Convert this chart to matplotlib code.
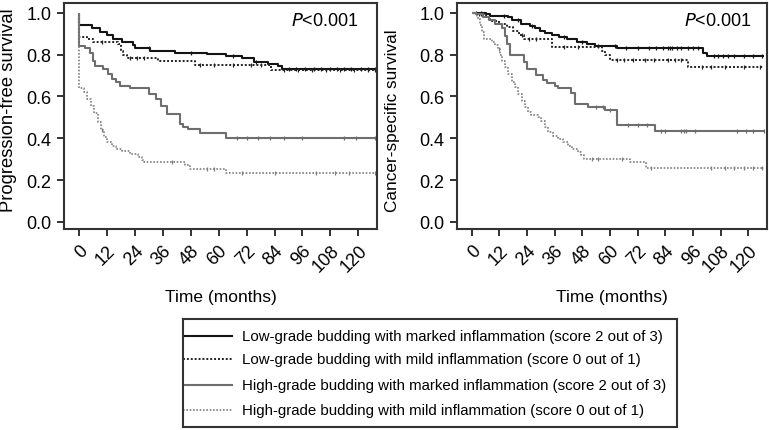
import matplotlib
matplotlib.use("Agg")
import matplotlib.pyplot as plt
import numpy as np

plt.rcParams['font.family'] = ['Liberation Sans', 'DejaVu Sans']

# ---------------- data ----------------
labels = [
    "Low-grade budding with marked inflammation (score 2 out of 3)",
    "Low-grade budding with mild inflammation (score 0 out of 1)",
    "High-grade budding with marked inflammation (score 2 out of 3)",
    "High-grade budding with mild inflammation (score 0 out of 1)",
]
xticks = [0, 12, 24, 36, 48, 60, 72, 84, 96, 108, 120]
yticks = [0.0, 0.2, 0.4, 0.6, 0.8, 1.0]

# Progression-free survival (left)
pfs_lm_t = [0, 0, 5.5, 9, 12, 14.5, 18.5, 23, 24, 30.5, 41, 55, 63, 70, 75, 81, 85.5, 87, 127]
pfs_lm_s = [1.0, 0.94, 0.927, 0.91, 0.895, 0.876, 0.863, 0.845, 0.831, 0.82, 0.809, 0.805, 0.796, 0.783, 0.767, 0.756, 0.745, 0.732, 0.732]
pfs_lm_c = [30, 48, 66, 76, 90, 93, 97, 101, 104, 108, 111, 114, 117, 121, 124, 127]

pfs_lw_t = [0, 0, 3.3, 6, 16.7, 18, 19, 20.4, 34, 49.7, 82.5, 127]
pfs_lw_s = [1.0, 0.884, 0.875, 0.863, 0.85, 0.82, 0.80, 0.785, 0.769, 0.753, 0.729, 0.729]
pfs_lw_c = [10, 22, 25, 28, 52, 58, 66, 74, 78, 88, 94, 100, 106, 112, 118, 124, 127]

pfs_hm_t = [0, 0, 2.6, 4.7, 6, 7, 10.4, 12.4, 14, 16, 17.6, 21.9, 30, 33, 35, 37.6, 43.5, 44.5, 47, 52, 63, 127]
pfs_hm_s = [1.0, 0.843, 0.83, 0.81, 0.772, 0.748, 0.732, 0.708, 0.684, 0.668, 0.652, 0.64, 0.612, 0.589, 0.556, 0.517, 0.47, 0.455, 0.445, 0.424, 0.402, 0.402]
pfs_hm_c = [68, 72, 77, 82, 88, 96, 114, 119, 127]

pfs_hw_t = [0, 0, 2, 3.5, 5, 6.5, 8, 9.5, 10.5, 12, 14, 16, 18.3, 22, 25.5, 27, 28, 45.5, 47.5, 63.3, 127]
pfs_hw_s = [1.0, 0.64, 0.62, 0.59, 0.555, 0.52, 0.48, 0.44, 0.405, 0.381, 0.365, 0.349, 0.337, 0.325, 0.31, 0.295, 0.287, 0.27, 0.254, 0.234, 0.234]
pfs_hw_c = [10, 40, 55, 58, 70, 84, 102, 110, 116, 127]

# Cancer-specific survival (right)
css_lm_t = [0, 6, 8, 15.9, 17.4, 21.5, 25.3, 27.5, 29.4, 31.6, 35, 37.9, 41.4, 45.7, 50, 53.6, 63, 100.5, 102, 127]
css_lm_s = [1.0, 0.995, 0.984, 0.98, 0.968, 0.947, 0.939, 0.927, 0.915, 0.904, 0.895, 0.887, 0.876, 0.863, 0.852, 0.844, 0.831, 0.81, 0.796, 0.796]
css_lm_c = [2, 4, 14, 20, 26, 40, 48, 55, 62, 67, 72, 77, 80, 83, 85, 86, 87, 89, 91, 94, 96, 98, 105, 107, 109, 111, 114, 118, 122, 126]

css_lw_t = [0, 2.5, 6, 8.1, 11.7, 15.3, 18.1, 20.4, 22.6, 35, 56.5, 58, 60, 94, 127]
css_lw_s = [1.0, 0.995, 0.979, 0.963, 0.947, 0.931, 0.915, 0.892, 0.876, 0.839, 0.82, 0.80, 0.775, 0.74, 0.74]
css_lw_c = [3, 4, 22, 25, 28, 40, 46, 63, 66, 70, 75, 79, 85, 88, 91, 100, 104, 110, 118, 125]

css_hm_t = [0, 2, 5, 7.5, 10, 13, 14.4, 15.4, 16.6, 22.5, 24, 28, 31, 32.6, 36, 37.6, 43, 45, 50.6, 58, 63, 79.5, 127]
css_hm_s = [1.0, 0.995, 0.98, 0.965, 0.947, 0.93, 0.89, 0.85, 0.80, 0.765, 0.732, 0.703, 0.678, 0.665, 0.65, 0.64, 0.617, 0.565, 0.55, 0.535, 0.464, 0.437, 0.437]
css_hm_c = [54, 57, 60, 68, 72, 76, 82, 84, 91, 92, 93, 97, 115, 119, 122, 127]

css_hw_t = [0, 2.1, 2.9, 3.6, 4.4, 5.1, 8.6, 10.1, 11.6, 12.3, 13, 14.4, 15.9, 17.3, 18.7, 20.1, 21.6, 23, 24.4, 25.9, 28.7, 30.1, 31.6, 33, 35.1, 37.3, 39.4, 41.6, 43.7, 45.9, 47.3, 48.7, 68.7, 75.5, 127]
css_hw_s = [1.0, 0.987, 0.971, 0.94, 0.907, 0.876, 0.86, 0.845, 0.828, 0.80, 0.772, 0.74, 0.708, 0.67, 0.645, 0.612, 0.58, 0.55, 0.525, 0.509, 0.501, 0.485, 0.453, 0.429, 0.413, 0.397, 0.381, 0.365, 0.349, 0.333, 0.318, 0.301, 0.286, 0.258, 0.258]
css_hw_c = [12, 52, 55, 65, 78, 104, 110, 114, 118, 122, 126]

panels = [
    ("Progression-free survival", 13.2, -0.150, 0.53,
     [(pfs_lm_t, pfs_lm_s, pfs_lm_c), (pfs_lw_t, pfs_lw_s, pfs_lw_c),
      (pfs_hm_t, pfs_hm_s, pfs_hm_c), (pfs_hw_t, pfs_hw_s, pfs_hw_c)]),
    ("Cancer-specific survival", 12.4, -0.183, 0.485,
     [(css_lm_t, css_lm_s, css_lm_c), (css_lw_t, css_lw_s, css_lw_c),
      (css_hm_t, css_hm_s, css_hm_c), (css_hw_t, css_hw_s, css_hw_c)]),
]

styles = [
    dict(color="#141414", linestyle="-", lw=1.5),
    dict(color="#222222", linestyle=(0, (1, 1)), lw=1.4),
    dict(color="#6e6e6e", linestyle="-", lw=1.5),
    dict(color="#7f7f7f", linestyle=(0, (1, 1)), lw=1.2),
]

fig = plt.figure(figsize=(7.69, 4.31), dpi=100)
positions = [[0.0832, 0.466, 0.407, 0.525], [0.594, 0.466, 0.403, 0.525]]
p_x = [0.94, 0.95]

def step_value(t, s, x):
    t = np.asarray(t); s = np.asarray(s)
    idx = np.searchsorted(t, x, side="right") - 1
    return s[max(idx, 0)]

for pos, px, (ylab, yfs, ylx, yly, series) in zip(positions, p_x, panels):
    ax = fig.add_axes(pos)
    for (t, s, c), st in zip(series, styles):
        ax.plot(t, s, drawstyle="steps-post", solid_capstyle="butt", **st)
        cy = [step_value(t, s, x) for x in c]
        ax.plot(c, cy, linestyle="none", marker="|", markersize=3.5,
                markeredgewidth=0.9, color=st["color"])
    ax.set_xlim(-6.5, 128)
    ax.set_ylim(-0.035, 1.048)
    ax.set_xticks(xticks)
    ax.set_xticklabels([str(v) for v in xticks], rotation=45, ha="right",
                       rotation_mode="anchor", fontsize=13)
    ax.set_yticks(yticks)
    ax.set_yticklabels([f"{v:.1f}" for v in yticks], fontsize=13)
    ax.tick_params(direction="out", length=5, width=1.3, color="#222222", pad=4)
    for sp in ax.spines.values():
        sp.set_linewidth(1.5)
        sp.set_color("#333333")
    ax.set_xlabel("Time (months)", fontsize=12.5, labelpad=10)
    ax.set_ylabel(ylab, fontsize=yfs)
    ax.yaxis.set_label_coords(ylx, yly)
    ax.text(px, 0.92, r"$\it{P}$<0.001", transform=ax.transAxes, ha="right",
            va="center", fontsize=13)

# legend box
lax = fig.add_axes([183/769, 1 - 428/431, (677 - 183)/769, 108/431])
lax.set_xlim(0, 1); lax.set_ylim(0, 1)
lax.set_xticks([]); lax.set_yticks([])
for sp in lax.spines.values():
    sp.set_linewidth(1.5); sp.set_color("#333333")
rows_y = [0.843, 0.63, 0.39, 0.157]
for lab, st, yy in zip(labels, styles, rows_y):
    lax.plot([0.0, 0.10], [yy, yy], **st)
    lax.text(0.12, yy, lab, va="center", ha="left", fontsize=10.8)

fig.savefig("out.png", dpi=100)
